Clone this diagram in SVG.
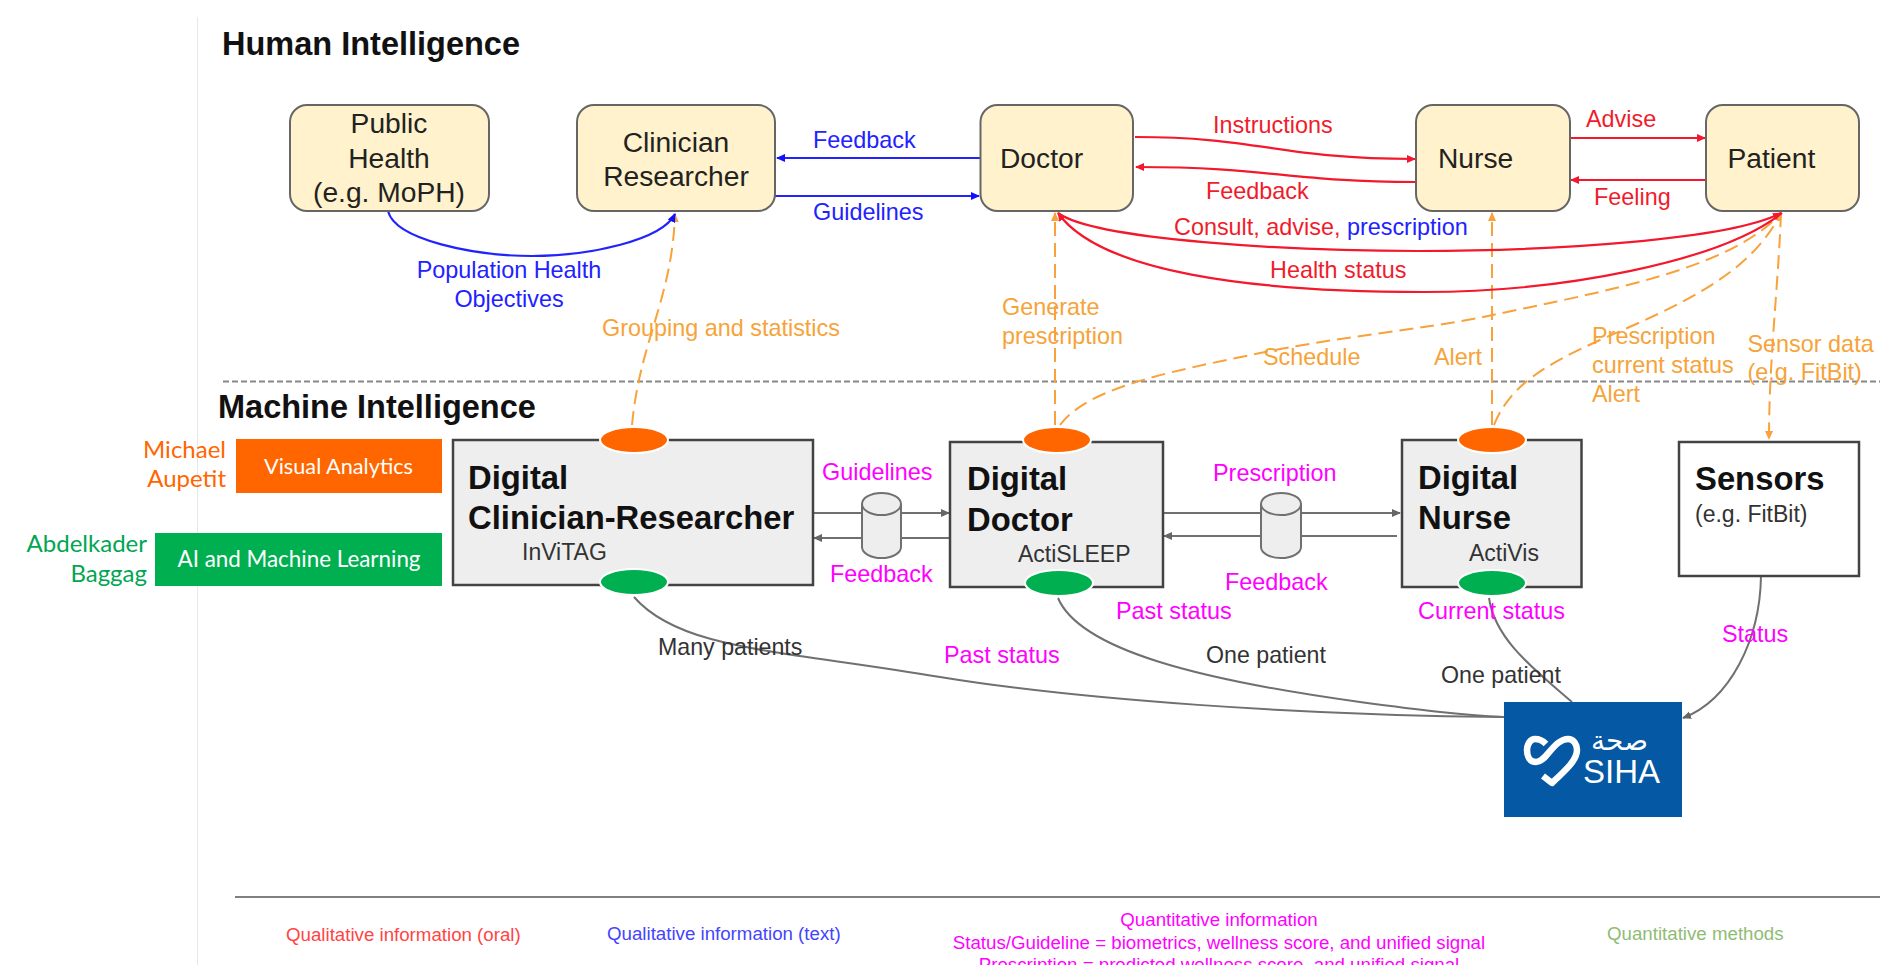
<svg xmlns="http://www.w3.org/2000/svg" width="1880" height="965" viewBox="0 0 1880 965">
<style>
text{font-family:"Liberation Sans",Arial,sans-serif;font-size:23.4px}
.hb{fill:#fff2cc;stroke:#666;stroke-width:2}
.hn{font-size:28.2px;fill:#222}
.h{font-size:32.500px;font-weight:bold;fill:#111}
.dg{fill:#eee;stroke:#434343;stroke-width:2.500}
.wb{fill:#fff;stroke:#434343;stroke-width:2.500}
.bt{font-size:32.800px;font-weight:bold;fill:#111}
.st{fill:#333;font-size:23px}
.dk{fill:#333;font-size:23.2px}
.m{fill:#ff00ff}
.r{fill:#f01c2c}
.b{fill:#2222ff}
.o{fill:#f6a33a}
.or{fill:#ff6600;stroke:#fff;stroke-width:2}
.gr{fill:#00b050;stroke:#fff;stroke-width:2}
.lato{font-family:Lato,"Open Sans",sans-serif}
.leg{font-size:18.7px}
.cb,.cr,.co,.cg{fill:none}
.cb{stroke:#2222ff;stroke-width:2.200}
.cr{stroke:#f4182c;stroke-width:2.200}
.co{stroke:#f9a13b;stroke-width:2;stroke-dasharray:14 7}
.cg{stroke:#707070;stroke-width:2}
.cyl{fill:#eee;stroke:#707070;stroke-width:2}
</style>
<defs>
<marker id="ab" markerWidth="10" markerHeight="10" refX="8" refY="4" orient="auto" markerUnits="userSpaceOnUse"><path d="M0,0L9,4L0,8z" fill="#1111ff"/></marker>
<marker id="ar" markerWidth="10" markerHeight="10" refX="8" refY="4" orient="auto" markerUnits="userSpaceOnUse"><path d="M0,0L9,4L0,8z" fill="#f4182c"/></marker>
<marker id="ao" markerWidth="10" markerHeight="10" refX="8" refY="4" orient="auto" markerUnits="userSpaceOnUse"><path d="M0,0L9,4L0,8z" fill="#f9a13b"/></marker>
<marker id="ag" markerWidth="10" markerHeight="10" refX="8" refY="4" orient="auto" markerUnits="userSpaceOnUse"><path d="M0,0L9,4L0,8z" fill="#666"/></marker>
</defs>
<rect width="1880" height="965" fill="#fff"/>
<path d="M197.500,17V965" stroke="#e8e8e8" stroke-width="1" fill="none"/>
<text x="222" y="55" class="h">Human Intelligence</text>
<path d="M223,381.500H1880" stroke="#888" stroke-width="2" stroke-dasharray="6 3" fill="none"/>
<text x="218" y="418" class="h">Machine Intelligence</text>

<g id="connectors">
<path class="co" marker-end="url(#ao)" d="M632,425C640,340 672,300 675,214"/>
<path class="co" marker-end="url(#ao)" d="M1055,425V213"/>
<path class="co" marker-end="url(#ao)" d="M1492,425V213"/>
<path class="co" marker-end="url(#ao)" d="M1060,425C1090,385 1180,370 1265,352C1350,335 1420,330 1488,316C1600,292 1730,270 1781,213"/>
<path class="co" marker-end="url(#ao)" d="M1494,425C1510,385 1545,365 1600,340C1680,305 1750,275 1781,213"/>
<path class="co" marker-end="url(#ao)" d="M1781,213C1778,290 1769,360 1769,439"/>
<path class="cb" marker-end="url(#ab)" d="M980,158H777"/>
<path class="cb" marker-end="url(#ab)" d="M770,196H979"/>
<path class="cb" marker-end="url(#ab)" d="M388,211C395,240 475,256 532,256C590,256 662,240 675,214"/>
<path class="cr" marker-end="url(#ar)" d="M1135,137C1260,137 1280,159 1415,159"/>
<path class="cr" marker-end="url(#ar)" d="M1416,182C1290,182 1270,167 1136,167"/>
<path class="cr" marker-end="url(#ar)" d="M1570,138H1705"/>
<path class="cr" marker-end="url(#ar)" d="M1706,180H1571"/>
<path class="cr" marker-end="url(#ar)" d="M1058,213C1095,240 1290,251 1418,251C1550,251 1730,240 1781,213"/>
<path class="cr" marker-end="url(#ar)" d="M1782,213C1720,262 1560,292 1424,292C1250,292 1100,272 1058,213"/>
<path class="cg" marker-end="url(#ag)" d="M813,513H949"/>
<path class="cg" marker-end="url(#ag)" d="M950,538H814"/>
<path class="cg" marker-end="url(#ag)" d="M1163,513H1400"/>
<path class="cg" marker-end="url(#ag)" d="M1397,536H1164"/>
<path class="cg" d="M634,597C680,650 780,650 940,677C1080,700 1300,715 1504,717"/>
<path class="cg" d="M1058,598C1080,650 1200,680 1360,702C1420,710 1460,715 1504,717"/>
<path class="cg" d="M1489,598C1495,640 1535,670 1572,702"/>
<path class="cg" marker-end="url(#ag)" d="M1761,576C1760,640 1730,700 1683,718"/>
</g>

<g id="public-health"><rect class="hb" x="290" y="105" width="199" height="106" rx="17"/>
<text class="hn" x="389" y="133" text-anchor="middle">Public</text><text class="hn" x="389" y="168" text-anchor="middle">Health</text><text class="hn" x="389" y="202" text-anchor="middle">(e.g. MoPH)</text></g>
<g id="clinician"><rect class="hb" x="577" y="105" width="198" height="106" rx="17"/>
<text class="hn" x="676" y="152" text-anchor="middle">Clinician</text><text class="hn" x="676" y="186" text-anchor="middle">Researcher</text></g>
<g id="doctor"><rect class="hb" x="980.500" y="105" width="152.500" height="106" rx="17"/><text class="hn" x="1000" y="168">Doctor</text></g>
<g id="nurse"><rect class="hb" x="1416" y="105" width="154" height="106" rx="17"/><text class="hn" x="1438" y="168">Nurse</text></g>
<g id="patient"><rect class="hb" x="1706" y="105" width="153" height="106" rx="17"/><text class="hn" x="1727.500" y="168">Patient</text></g>

<g id="edge-labels">
<text class="b" x="813" y="148">Feedback</text>
<text class="b" x="813" y="220">Guidelines</text>
<text class="b" x="509" y="278" text-anchor="middle">Population Health</text>
<text class="b" x="509" y="307" text-anchor="middle">Objectives</text>
<text class="r" x="1213" y="133">Instructions</text>
<text class="r" x="1206" y="199">Feedback</text>
<text class="r" x="1586" y="127">Advise</text>
<text class="r" x="1594" y="205">Feeling</text>
<text class="r" x="1174" y="235">Consult, advise, <tspan class="b">prescription</tspan></text>
<text class="r" x="1270" y="278">Health status</text>
<text class="o" x="602" y="336">Grouping and statistics</text>
<text class="o" x="1002" y="315">Generate</text>
<text class="o" x="1002" y="344">prescription</text>
<text class="o" x="1263" y="365">Schedule</text>
<text class="o" x="1434" y="365">Alert</text>
<text class="o" x="1592" y="344">Prescription</text>
<text class="o" x="1592" y="373">current status</text>
<text class="o" x="1592" y="402">Alert</text>
<text class="o" x="1747.500" y="352">Sensor data</text>
<text class="o" x="1747.500" y="380">(e.g. FitBit)</text>
<text class="m" x="822" y="480">Guidelines</text>
<text class="m" x="830" y="582">Feedback</text>
<text class="m" x="1213" y="481">Prescription</text>
<text class="m" x="1225" y="590">Feedback</text>
<text class="m" x="1116" y="619">Past status</text>
<text class="m" x="944" y="663">Past status</text>
<text class="m" x="1418" y="619">Current status</text>
<text class="m" x="1722" y="642">Status</text>
<text class="dk" x="658" y="655">Many patients</text>
<text class="dk" x="1206" y="663">One patient</text>
<text class="dk" x="1441" y="683">One patient</text>
</g>

<g id="michael-aupetit"><text class="lato" x="226" y="458" text-anchor="end" style="font-size:24px" fill="#ff6600">Michael</text><text class="lato" x="226" y="487" text-anchor="end" style="font-size:24px" fill="#ff6600">Aupetit</text></g>
<g id="visual-analytics"><rect x="236" y="439" width="206" height="54" fill="#ff6600"/><text class="lato" x="338.500" y="474" text-anchor="middle" style="font-size:21.700px" fill="#fff">Visual Analytics</text></g>
<g id="abdelkader-baggag"><text class="lato" x="147" y="552" text-anchor="end" style="font-size:24px" fill="#00a651">Abdelkader</text><text class="lato" x="147" y="582" text-anchor="end" style="font-size:24px" fill="#00a651">Baggag</text></g>
<g id="ai-ml"><rect x="155" y="533" width="287" height="53" fill="#00b050"/><text class="lato" x="299" y="567" text-anchor="middle" style="font-size:22.400px" fill="#fff">AI and Machine Learning</text></g>

<g id="digital-clinician-researcher"><rect class="dg" x="453" y="440" width="360" height="145"/>
<text class="bt" x="468" y="489">Digital</text><text class="bt" x="468" y="529">Clinician-Researcher</text><text class="st" x="522" y="560">InViTAG</text>
<ellipse class="or" cx="634" cy="440" rx="34" ry="13"/><ellipse class="gr" cx="634" cy="582" rx="34" ry="13"/></g>
<g id="digital-doctor"><rect class="dg" x="950" y="442" width="213" height="145"/>
<text class="bt" x="967" y="490">Digital</text><text class="bt" x="967" y="531">Doctor</text><text class="st" x="1018" y="562">ActiSLEEP</text>
<ellipse class="or" cx="1057" cy="440" rx="34" ry="13"/><ellipse class="gr" cx="1059" cy="583" rx="34" ry="13"/></g>
<g id="digital-nurse"><rect class="dg" x="1402" y="440" width="179.500" height="147"/>
<text class="bt" x="1418" y="489">Digital</text><text class="bt" x="1418" y="529">Nurse</text><text class="st" x="1469" y="561">ActiVis</text>
<ellipse class="or" cx="1492" cy="440" rx="34" ry="13"/><ellipse class="gr" cx="1492" cy="583" rx="34" ry="13"/></g>
<g id="sensors"><rect class="wb" x="1679" y="442" width="180" height="134"/>
<text class="bt" x="1695" y="490">Sensors</text><text class="st" x="1695" y="522">(e.g. FitBit)</text></g>

<g id="store-left"><path class="cyl" d="M862,504V547A19.500,11 0 0 0 901,547V504A19.500,11 0 0 0 862,504z"/><path class="cyl" d="M862,504A19.500,11 0 0 0 901,504"/></g>
<g id="store-right"><path class="cyl" d="M1261,504V547A20,11 0 0 0 1301,547V504A20,11 0 0 0 1261,504z"/><path class="cyl" d="M1261,504A20,11 0 0 0 1301,504"/></g>

<g id="siha"><rect x="1504" y="702" width="178" height="115" fill="#0558a3"/>
<path d="M1546,744C1541,739 1538,739 1535,739C1530,739 1527,745 1527,750C1527,757 1530,762 1536,762C1544,762 1549,750 1558,743C1562,740 1565,739 1568,739C1574,739 1577,745 1577,750C1577,760 1566,770 1552,783L1543,776" fill="none" stroke="#fff" stroke-width="6.500" stroke-linejoin="round"/>
<text x="1619.500" y="750" text-anchor="middle" style="font-family:'DejaVu Sans',sans-serif;font-size:28px" fill="#fff">صحة</text>
<text x="1583" y="783" style="font-size:33px" fill="#fff">SIHA</text></g>

<g id="legend">
<path d="M235,897H1880" stroke="#808080" stroke-width="2" fill="none"/>
<text class="leg" x="286" y="940.500" fill="#ff4444">Qualitative information (oral)</text>
<text class="leg" x="607" y="940" fill="#4444ff">Qualitative information (text)</text>
<text class="leg m" x="1219" y="926" text-anchor="middle">Quantitative information</text>
<text class="leg m" x="1219" y="949" text-anchor="middle">Status/Guideline = biometrics, wellness score, and unified signal</text>
<text class="leg m" x="1219" y="971" text-anchor="middle">Prescription = predicted wellness score, and unified signal</text>
<text class="leg" x="1607" y="940" fill="#8fbc74">Quantitative methods</text>
</g>
</svg>
